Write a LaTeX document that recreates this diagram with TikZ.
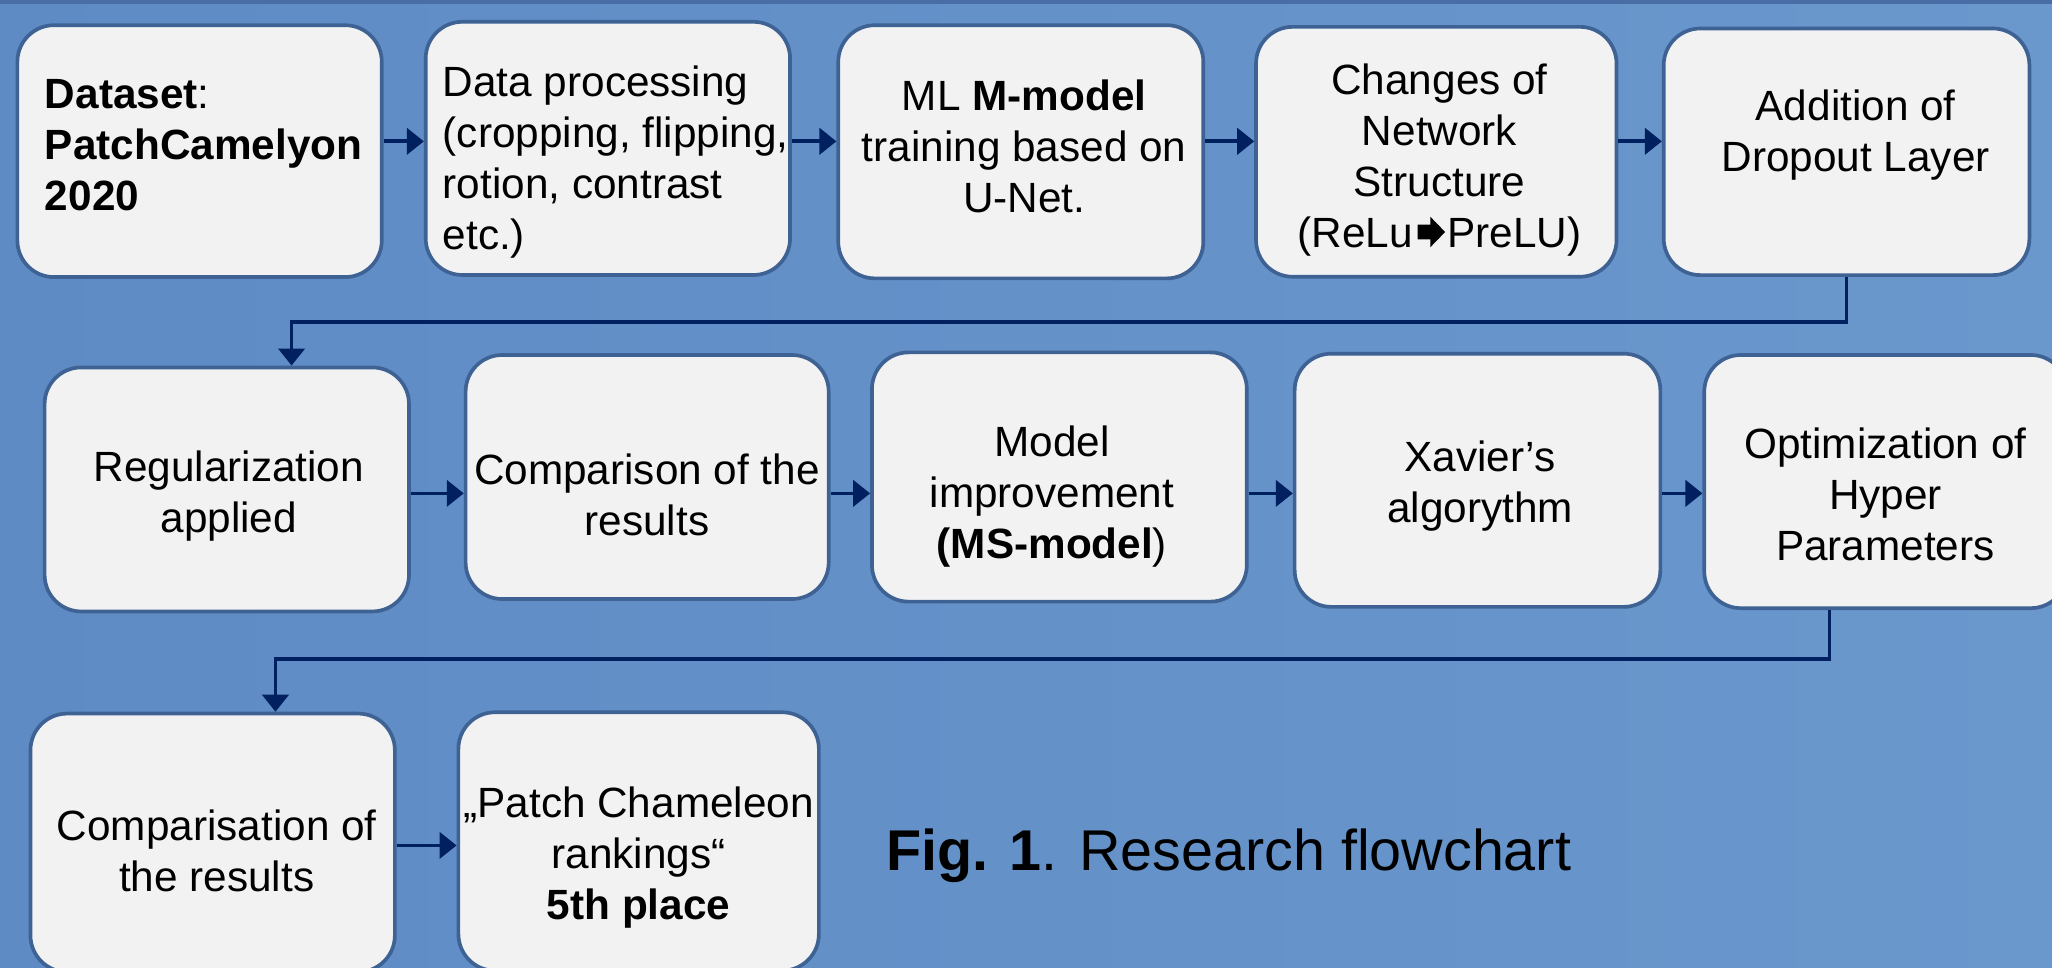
\documentclass[tikz,border=0pt]{standalone}
\usepackage{fontspec}
\setmainfont{Liberation Sans}
\usetikzlibrary{arrows.meta}
\definecolor{bgleft}{RGB}{94,139,196}
\definecolor{bgright}{RGB}{106,151,204}
\definecolor{bgtop}{RGB}{72,110,165}
\definecolor{boxfill}{RGB}{242,242,242}
\definecolor{boxline}{RGB}{62,98,148}
\definecolor{arrowblue}{RGB}{0,32,96}
\tikzstyle{stepbox}=[draw=boxline,fill=boxfill,line width=1.6pt,rounded corners=0.56cm,inner sep=0pt]
\tikzstyle{steptext}=[align=center,inner sep=0pt,font=\fontsize{18.4}{22.2}\selectfont]
\tikzstyle{flow}=[arrowblue,line width=1.6pt,-{Triangle[length=0.26cm,width=0.40cm]}]
\newcommand{\blockarrow}{\hspace{2pt}\tikz[baseline=0pt,x=1pt,y=1pt]\fill (0,3.4) -- (5.6,3.4) -- (5.6,0) -- (12,6.6) -- (5.6,13.2) -- (5.6,9.8) -- (0,9.8) -- cycle;\hspace{1pt}}

\begin{document}
\begin{tikzpicture}[x=0.02cm,y=0.02cm]
    \useasboundingbox (0,0) rectangle (1568,-739);
    \clip (0,0) rectangle (1568,-739);
    \shade[left color=bgleft,right color=bgright] (0,0) rectangle (1568,-739);
    \fill[bgtop] (0,0) rectangle (1568,-3);

    \node[stepbox,minimum width=5.57cm,minimum height=3.85cm] (b1) at (152.5,-115.5) {};
    \node[stepbox,minimum width=5.57cm,minimum height=3.87cm] (b2) at (464.5,-113.4) {};
    \node[stepbox,minimum width=5.58cm,minimum height=3.87cm] (b3) at (780,-116) {};
    \node[stepbox,minimum width=5.51cm,minimum height=3.82cm] (b4) at (1097.5,-116) {};
    \node[stepbox,minimum width=5.59cm,minimum height=3.77cm] (b5) at (1411,-116) {};

    \node[stepbox,minimum width=5.57cm,minimum height=3.73cm] (b6) at (173.3,-374) {};
    \node[stepbox,minimum width=5.55cm,minimum height=3.73cm] (b7) at (494.5,-364.5) {};
    \node[stepbox,minimum width=5.73cm,minimum height=3.81cm] (b8) at (809.5,-364.5) {};
    \node[stepbox,minimum width=5.59cm,minimum height=3.87cm] (b9) at (1129,-367) {};
    \node[stepbox,minimum width=5.55cm,minimum height=3.87cm] (b10) at (1441,-368) {};

    \node[stepbox,minimum width=5.57cm,minimum height=3.95cm] (b11) at (162.5,-644) {};
    \node[stepbox,minimum width=5.51cm,minimum height=3.95cm] (b12) at (488,-643) {};

    \node[steptext,align=left,anchor=west] (t1) at (34,-111) {\textbf{Dataset}:\\\textbf{PatchCamelyon}\\\textbf{2020}};
    \node[steptext,align=left,anchor=west] (t2) at (338,-124) {Data processing\\(cropping, flipping,\\rotion, contrast\\etc.)};
    \node[steptext] (t3) at (782.6,-112) {ML \textbf{M-model}\\training based on\\U-Net.};
    \node[steptext] (t4) at (1100,-122) {Changes of\\Network\\Structure\\(ReLu\blockarrow PreLU)};
    \node[steptext] (t5) at (1418,-103.5) {Addition of\\Dropout Layer};

    \node[steptext] (t6) at (174.8,-379) {Regularization\\applied};
    \node[steptext] (t7) at (494.3,-378.5) {Comparison of the\\results};
    \node[steptext] (t8) at (803.8,-379.5) {Model\\improvement\\\textbf{(MS-model})};
    \node[steptext] (t9) at (1131,-371.5) {Xavier’s\\algorythm};
    \node[steptext] (t10) at (1440.7,-377.5) {Optimization of\\Hyper\\Parameters};

    \node[steptext] (t11) at (165.6,-650) {Comparisation of\\the results};
    \node[steptext] (t12) at (488,-655) {„Patch Chameleon\\rankings“\\\textbf{5th place}};

    \node[anchor=base west,inner sep=0pt,font=\fontsize{25}{30}\selectfont] (cap) at (677,-665) {\textbf{Fig. 1}. Research flowchart};

    \coordinate (r1) at (0,-108);
    \coordinate (r2) at (0,-377);
    \coordinate (r3) at (0,-646);
    \foreach \from/\to in {b1/b2,b2/b3,b3/b4,b4/b5}
    \draw[flow] (\from.east |- r1) -- (\to.west |- r1);
    \foreach \from/\to in {b6/b7,b7/b8,b8/b9,b9/b10}
    \draw[flow] (\from.east |- r2) -- (\to.west |- r2);
    \draw[flow] (b11.east |- r3) -- (b12.west |- r3);

    \coordinate (k1) at (222.8,-245.8);
    \coordinate (k2) at (210.5,-503.6);
    \draw[flow] (b5.south) |- (k1) -- (k1 |- b6.north);
    \draw[flow] ([xshift=-0.86cm]b10.south) |- (k2) -- (k2 |- b11.north);
\end{tikzpicture}
\end{document}
